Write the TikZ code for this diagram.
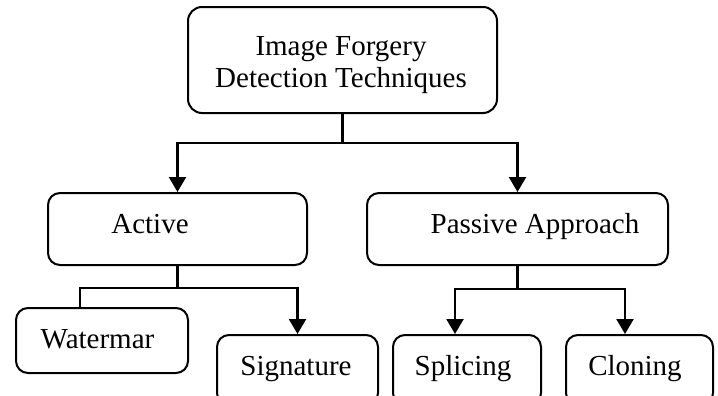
\documentclass[tikz,border=0pt]{standalone}
\usepackage{fontspec}
\setmainfont{Liberation Serif}
\usetikzlibrary{arrows.meta}
\begin{document}
\begin{tikzpicture}[x=0.5pt,y=-0.5pt,
  box/.style={draw,line width=1pt,rounded corners=6pt,inner sep=0pt},
  txt/.style={anchor=base,inner sep=0pt,font=\fontsize{14.5}{16}\selectfont},
  conn/.style={line width=1.1pt},
  arr/.style={line width=1.1pt,-{Triangle[width=8.5pt,length=7.5pt]}}]
\path[use as bounding box,clip] (0,0) rectangle (718,396);
% boxes
\node[box,rounded corners=7pt,minimum width=154.5pt,minimum height=53pt] (top) at (342.5,60) {};
\node[box,minimum width=129.5pt,minimum height=36pt] (active) at (177.5,229) {};
\node[box,minimum width=150.5pt,minimum height=36pt] (passive) at (517.5,229) {};
\node[box,minimum width=86pt,minimum height=32.5pt] (watermar) at (102,340.5) {};
\node[box,minimum width=80.5pt,minimum height=35pt] (signature) at (297.5,370) {};
\node[box,minimum width=74pt,minimum height=35pt] (splicing) at (467,370) {};
\node[box,minimum width=73.5pt,minimum height=35pt] (cloning) at (639.5,370) {};
% texts
\node[txt] (t1) at (341,55) {Image Forgery};
\node[txt] (t2) at (341,87) {Detection Techniques};
\node[txt] (tactive) at (150,233) {Active};
\node[txt] (tpassive) at (535,233) {Passive Approach};
\node[txt] (twater) at (97.5,348) {Watermar};
\node[txt] (tsig) at (296,375) {Signature};
\node[txt] (tspl) at (463,375) {Splicing};
\node[txt] (tclo) at (635,375) {Cloning};
% connectors
\coordinate (j1) at (342.5,143);
\draw[conn] (top.south) -- (j1);
\draw[arr] (j1) -| (active.north);
\draw[arr] (j1) -| (passive.north);
\coordinate (j2) at (177.5,288);
\draw[conn] (active.south) -- (j2);
\draw[conn] (j2) -| ([xshift=-11pt]watermar.north);
\draw[arr] (j2) -| (signature.north);
\coordinate (j3) at (517.5,289);
\draw[conn] (passive.south) -- (j3);
\draw[arr] (j3) -| ([xshift=-6pt]splicing.north);
\draw[arr] (j3) -| ([xshift=-7.25pt]cloning.north);
\end{tikzpicture}
\end{document}
